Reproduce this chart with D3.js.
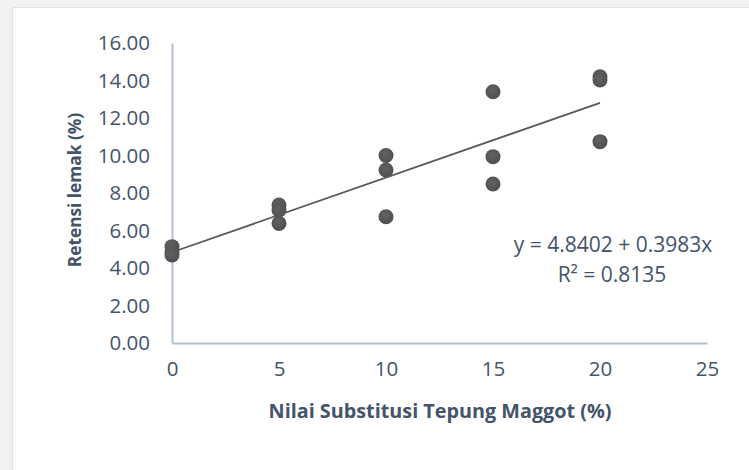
<!DOCTYPE html>
<html>
<head>
<meta charset="utf-8">
<script src="https://cdn.jsdelivr.net/npm/d3@7/dist/d3.min.js"></script>
<style>
  html, body { margin: 0; padding: 0; background: #f2f2f2; }
  svg { display: block; }
  text { font-family: "Open Sans", "Noto Sans", sans-serif; fill: #44546A; }
</style>
</head>
<body>
<svg id="chart" width="749" height="470"></svg>
<script>
// Substitution level of maggot meal (%) for each observation
const substitution = [0, 0, 0, 5, 5, 5, 10, 10, 10, 15, 15, 15, 20, 20, 20];
// Fat retention (%) for each observation
const fatRetention = [5.14, 4.87, 4.69, 7.36, 7.10, 6.38, 10.00, 9.23, 6.73, 13.40, 9.94, 8.48, 14.20, 14.03, 10.74];
// Linear fit reported for the data
const fitIntercept = 4.8402;
const fitSlope = 0.3983;
const fitR2 = 0.8135;
// Axis ticks
const xTicks = [0, 5, 10, 15, 20, 25];
const yTicks = [0, 2, 4, 6, 8, 10, 12, 14, 16];

const svg = d3.select("#chart");

// chart panel
svg.append("rect")
  .attr("x", 12.5).attr("y", 7.5)
  .attr("width", 760).attr("height", 480)
  .attr("fill", "#ffffff")
  .attr("stroke", "#dfe2e8").attr("stroke-width", 1);

const x = d3.scaleLinear().domain([0, 25]).range([172, 707]);
const y = d3.scaleLinear().domain([0, 16]).range([343, 43]);

const axisColor = "#b4bfd1";

// y axis
const yAxis = svg.append("g")
  .attr("transform", `translate(${x(0)},0)`)
  .call(d3.axisLeft(y).tickValues(yTicks).tickSize(0).tickPadding(22)
    .tickFormat(d3.format(".2f")));
yAxis.select(".domain").attr("stroke", axisColor).attr("stroke-width", 2);
yAxis.selectAll("text").attr("font-size", 20.5).attr("fill", "#44546A")
  .attr("font-family", "Open Sans");

// x axis
const xAxis = svg.append("g")
  .attr("transform", `translate(0,${y(0)})`)
  .call(d3.axisBottom(x).tickValues(xTicks).tickSize(0).tickPadding(18));
xAxis.select(".domain").attr("stroke", axisColor).attr("stroke-width", 2);
xAxis.selectAll("text").attr("font-size", 20.5).attr("fill", "#44546A")
  .attr("font-family", "Open Sans");

// marker shading
const defs = svg.append("defs");
const grad = defs.append("radialGradient").attr("id", "dot")
  .attr("cx", "45%").attr("cy", "40%").attr("r", "60%");
grad.append("stop").attr("offset", "0%").attr("stop-color", "#626262");
grad.append("stop").attr("offset", "100%").attr("stop-color", "#4f4f4f");

// data points
const pts = substitution.map((s, i) => ({ s, v: fatRetention[i] }));
svg.append("g").selectAll("circle").data(pts).join("circle")
  .attr("cx", d => x(d.s))
  .attr("cy", d => y(d.v))
  .attr("r", 7.5)
  .attr("fill", "url(#dot)");

// trend line over the observed range
const xr = d3.extent(substitution);
svg.append("line")
  .attr("x1", x(xr[0])).attr("y1", y(fitIntercept + fitSlope * xr[0]))
  .attr("x2", x(xr[1])).attr("y2", y(fitIntercept + fitSlope * xr[1]))
  .attr("stroke", "#595959").attr("stroke-width", 1.8);

// equation label
svg.append("text")
  .attr("x", 613).attr("y", 252)
  .attr("text-anchor", "middle").attr("font-size", 21)
  .text(`y = ${fitIntercept.toFixed(4)} + ${fitSlope.toFixed(4)}x`);
svg.append("text")
  .attr("x", 612).attr("y", 282)
  .attr("text-anchor", "middle").attr("font-size", 21)
  .text(`R² = ${fitR2.toFixed(4)}`);

// axis titles
svg.append("text")
  .attr("x", 440).attr("y", 418)
  .attr("text-anchor", "middle").attr("font-size", 19.8).attr("font-weight", "bold")
  .text("Nilai Substitusi Tepung Maggot (%)");
svg.append("text")
  .attr("transform", "translate(81,190) rotate(-90)")
  .attr("text-anchor", "middle").attr("font-size", 17.3).attr("font-weight", "bold")
  .text("Retensi lemak (%)");
</script>
</body>
</html>
